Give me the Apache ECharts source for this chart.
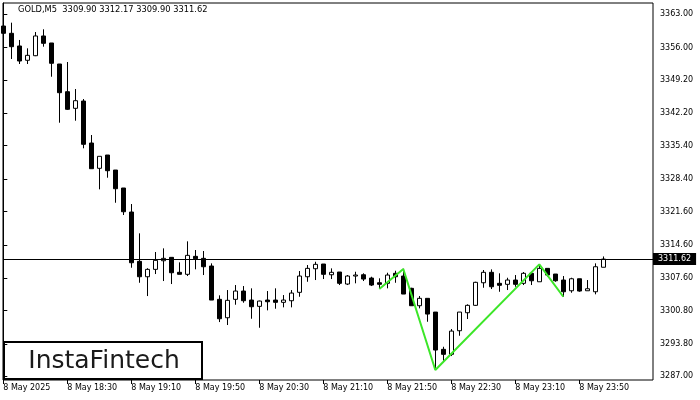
<!DOCTYPE html>
<html>
<head>
<meta charset="utf-8">
<script src="https://cdn.jsdelivr.net/npm/echarts@6/dist/echarts.min.js"></script>
<style>html,body{margin:0;padding:0;background:#fff;}#c{width:700px;height:400px;}</style>
</head>
<body>
<div id="c"></div>
<script>
// M5 bars, 8 May 2025 17:50 ... 23:55
const opens  = [3360.52,3358.99,3356.33,3353.33,3354.29,3358.43,3356.96,3352.55,3346.74,3343.25,
                3344.78,3335.97,3330.66,3333.45,3330.30,3326.53,3321.49,3311.14,3307.91,3309.46,
                3311.27,3311.98,3308.84,3308.42,3312.19,3311.77,3310.16,3303.17,3299.31,3303.17,
                3304.91,3303.02,3301.70,3303.02,3303.02,3302.54,3302.88,3304.64,3307.91,3309.59,
                3310.58,3308.33,3308.90,3306.38,3308.06,3308.33,3307.64,3306.65,3306.53,3308.63,
                3308.06,3305.48,3301.83,3303.38,3300.50,3292.68,3291.63,3296.58,3300.36,3301.91,
                3306.65,3308.84,3306.53,3306.32,3307.22,3306.53,3308.63,3306.86,3309.67,3308.48,
                3307.22,3304.97,3307.49,3304.97,3304.76,3309.90];
const closes = [3358.99,3356.18,3353.18,3354.37,3358.43,3356.89,3352.70,3346.53,3343.04,3344.85,
                3335.70,3330.58,3333.18,3330.16,3326.38,3321.55,3310.85,3307.91,3309.46,3311.35,
                3311.77,3308.75,3308.42,3312.40,3311.69,3310.01,3303.02,3299.10,3302.96,3304.91,
                3302.88,3301.62,3302.81,3302.67,3302.54,3303.02,3304.49,3308.06,3309.67,3310.51,
                3308.42,3308.84,3306.53,3308.06,3308.27,3307.43,3306.17,3306.32,3308.27,3307.91,
                3304.28,3301.83,3303.38,3300.08,3292.53,3291.63,3296.51,3300.50,3301.91,3306.74,
                3308.84,3305.81,3306.11,3307.22,3306.32,3308.63,3307.07,3309.67,3308.27,3307.07,
                3304.76,3307.49,3304.91,3305.39,3310.01,3311.62];
const lows   = [3354.08,3353.60,3352.55,3352.55,3354.20,3356.18,3349.88,3340.23,3342.90,3340.65,
                3334.86,3330.58,3326.25,3328.69,3323.44,3320.86,3309.80,3306.65,3303.86,3308.48,
                3307.01,3306.38,3308.42,3308.06,3309.47,3308.27,3303.02,3298.40,3297.78,3302.04,
                3302.46,3299.10,3297.21,3300.86,3301.20,3301.49,3301.49,3303.71,3306.86,3307.22,
                3307.43,3307.43,3306.17,3306.17,3306.53,3307.01,3305.96,3305.48,3305.48,3306.65,
                3304.28,3301.83,3301.28,3298.47,3288.44,3290.28,3291.27,3295.53,3299.04,3301.80,
                3305.60,3305.33,3304.76,3305.12,3305.81,3306.17,3306.17,3306.86,3307.91,3306.86,
                3303.71,3304.55,3304.76,3304.97,3304.22,3309.90];
const highs  = [3361.78,3361.22,3357.59,3355.84,3359.26,3359.83,3356.96,3352.55,3352.97,3347.30,
                3345.20,3337.65,3333.18,3333.45,3330.30,3326.53,3323.17,3317.02,3309.70,3313.10,
                3313.87,3311.98,3310.93,3315.34,3313.52,3313.31,3310.72,3304.01,3305.12,3306.17,
                3305.96,3305.48,3302.90,3304.91,3305.48,3304.07,3305.12,3309.11,3310.37,3311.06,
                3310.58,3309.67,3308.90,3308.27,3308.96,3308.63,3307.91,3307.58,3308.75,3309.17,
                3309.60,3305.60,3303.86,3303.38,3300.50,3293.22,3296.94,3300.50,3302.12,3306.86,
                3309.32,3309.46,3308.63,3307.70,3308.27,3308.90,3308.63,3310.51,3309.67,3308.48,
                3308.06,3307.70,3307.49,3307.22,3310.72,3312.17];
const timeLabels = ['8 May 2025','8 May 18:30','8 May 19:10','8 May 19:50','8 May 20:30',
                    '8 May 21:10','8 May 21:50','8 May 22:30','8 May 23:10','8 May 23:50'];
const labelBars = [0,8,16,24,32,40,48,56,64,72];
const priceTicks = [3287.00,3293.80,3300.80,3307.60,3314.60,3321.60,3328.40,3335.40,3342.20,3349.20,3356.00,3363.00];
const patternBars = [47,50,54,67,70];
const patternPrices = [3305.33,3309.53,3288.33,3310.51,3303.71];
const lastPrice = 3311.62;
const titleText = 'GOLD,M5  3309.90 3312.17 3309.90 3311.62';

const candleData = opens.map((o, i) => [i, o, closes[i], lows[i], highs[i]]);
const patternData = patternBars.map((b, i) => [b, patternPrices[i]]);

const FONT = 'DejaVu Sans';
const chart = echarts.init(document.getElementById('c'), null, {renderer: 'canvas'});
chart.setOption({
  animation: false,
  backgroundColor: '#fff',
  title: {
    text: titleText, left: 18, top: 6, padding: 0,
    textStyle: {fontFamily: FONT, fontSize: 8.3, fontWeight: 'normal', color: '#000'}
  },
  grid: {left: 3, top: 3, right: 47, bottom: 20, show: true, borderColor: '#000', borderWidth: 1},
  xAxis: {
    type: 'value', min: -0.0375, max: 81.21,
    splitLine: {show: false},
    axisLine: {show: false},
    axisTick: {show: true, customValues: labelBars, length: 4, lineStyle: {color: '#000'}},
    axisLabel: {
      customValues: labelBars, align: 'left', margin: 4,
      fontFamily: FONT, fontSize: 8, color: '#000',
      formatter: v => timeLabels[labelBars.indexOf(Math.round(v))] || ''
    }
  },
  yAxis: {
    type: 'value', position: 'right', min: 3286.245, max: 3365.35,
    splitLine: {show: false},
    axisLine: {show: true, lineStyle: {color: '#000'}},
    axisTick: {show: true, customValues: priceTicks, length: 4, lineStyle: {color: '#000'}},
    axisLabel: {
      customValues: priceTicks, margin: 7,
      fontFamily: FONT, fontSize: 8, color: '#000',
      formatter: v => Number(v).toFixed(2)
    }
  },
  series: [
    {
      type: 'candlestick',
      data: candleData,
      encode: {x: 0, y: [1, 2, 3, 4]},
      barWidth: 4,
      itemStyle: {color: '#fff', color0: '#000', borderColor: '#000', borderColor0: '#000', borderWidth: 1},
      markLine: {
        silent: true, symbol: ['none', 'none'],
        lineStyle: {color: '#000', width: 1, type: 'solid'},
        label: {
          show: true, position: 'end', distance: 0,
          formatter: lastPrice.toFixed(2),
          backgroundColor: '#000', color: '#fff',
          fontFamily: FONT, fontSize: 8, padding: [2, 5, 2, 5]
        },
        data: [{yAxis: lastPrice}]
      }
    },
    {
      type: 'line',
      data: patternData,
      symbol: 'none',
      lineStyle: {color: '#3ce628', width: 2},
      z: 5
    }
  ],
  graphic: [
    {
      type: 'group', left: 3, top: 341, z: 100,
      children: [
        {type: 'rect', shape: {x: 0, y: 0, width: 198, height: 37},
         style: {fill: '#fff', stroke: '#000', lineWidth: 2}},
        {type: 'text', x: 100, y: 19,
         style: {text: 'InstaFintech', fontFamily: 'DejaVu Sans', fontSize: 25, fontWeight: 'normal',
                 fill: '#1a1a1a', textAlign: 'center', textVerticalAlign: 'middle'}}
      ]
    }
  ]
});
</script>
</body>
</html>
